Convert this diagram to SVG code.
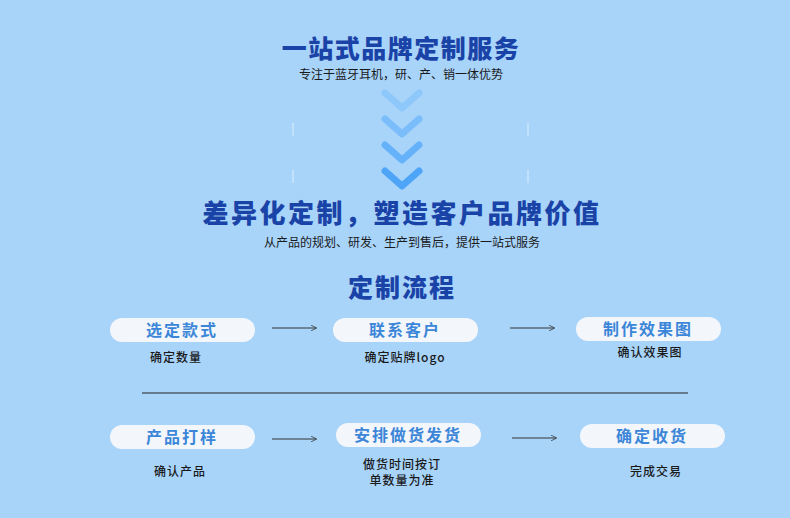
<svg xmlns="http://www.w3.org/2000/svg" width="790" height="518" viewBox="0 0 790 518">
<style>
text{font-family:"Noto Sans CJK SC","Noto Sans",sans-serif;text-anchor:middle}
.h{fill:#1a43a8;font-weight:900}
.s{fill:#1a1a1a;font-size:12px}
.pill{fill:#f3f6fa}
.pt{fill:#3b86d8;font-size:16px;font-weight:700;letter-spacing:2px}
.d{fill:#1a1a1a;font-size:12px;font-weight:500;letter-spacing:1px}
.ch{fill:none;stroke-width:7;stroke-linecap:round;stroke-linejoin:round}
.c{stroke:#333;stroke-width:1;fill:none}
</style>
<defs><marker id="a" viewBox="0 0 8 8" refX="7" refY="4" markerWidth="6" markerHeight="6" orient="auto"><path d="M0,0 L8,4 L0,8" fill="none" stroke="#333"/></marker></defs>
<rect width="790" height="518" fill="#a8d4fa"/>
<g id="title">
<text x="401" y="58" class="h" font-size="25" letter-spacing="1.5">一站式品牌定制服务</text>
<text x="401" y="79" class="s">专注于蓝牙耳机，研、产、销一体优势</text>
<g stroke="#fff" stroke-opacity="0.6"><line x1="293" y1="123" x2="293" y2="136"/><line x1="293" y1="170" x2="293" y2="183"/><line x1="528" y1="123" x2="528" y2="136"/><line x1="528" y1="170" x2="528" y2="183"/></g>
<polyline class="ch" stroke="#8ec8fb" points="385,93 402,108 419,93"/>
<polyline class="ch" stroke="#7bbdfa" points="385,119 402,134 419,119"/>
<polyline class="ch" stroke="#66b2fa" points="385,145 402,160 419,145"/>
<polyline class="ch" stroke="#4ea5f8" points="385,171 402,186 419,171"/>
<text x="402" y="223" class="h" font-size="26" letter-spacing="2.5">差异化定制，塑造客户品牌价值</text>
<text x="402" y="247" class="s">从产品的规划、研发、生产到售后，提供一站式服务</text>
<text x="402" y="297" class="h" font-size="25" letter-spacing="2">定制流程</text>
</g>
<g id="n1"><rect class="pill" x="110" y="318" width="145" height="24" rx="12"/><text x="182" y="336" class="pt">选定款式</text><text x="176" y="362" class="d">确定数量</text></g>
<g id="n2"><rect class="pill" x="333" y="318" width="145" height="24" rx="12"/><text x="405" y="336" class="pt">联系客户</text><text x="405" y="362" class="d">确定贴牌logo</text></g>
<g id="n3"><rect class="pill" x="576" y="317" width="145" height="24" rx="12"/><text x="648" y="335" class="pt">制作效果图</text><text x="650" y="357" class="d">确认效果图</text></g>
<g id="n4"><rect class="pill" x="110" y="425" width="145" height="24" rx="12"/><text x="182" y="443" class="pt">产品打样</text><text x="180" y="476" class="d">确认产品</text></g>
<g id="n5"><rect class="pill" x="336" y="423" width="145" height="24" rx="12"/><text x="408" y="441" class="pt">安排做货发货</text><text x="402" y="469" class="d">做货时间按订</text><text x="402" y="485" class="d">单数量为准</text></g>
<g id="n6"><rect class="pill" x="580" y="424" width="145" height="24" rx="12"/><text x="652" y="442" class="pt">确定收货</text><text x="656" y="476" class="d">完成交易</text></g>
<g id="connectors">
<line class="c" x1="272" y1="328" x2="316" y2="328" marker-end="url(#a)"/>
<line class="c" x1="510" y1="328" x2="554" y2="328" marker-end="url(#a)"/>
<line class="c" x1="272" y1="439" x2="316" y2="439" marker-end="url(#a)"/>
<line class="c" x1="512" y1="438" x2="556" y2="438" marker-end="url(#a)"/>
<line x1="142" y1="393" x2="688" y2="393" stroke="#222" stroke-width="1"/>
</g>
</svg>
